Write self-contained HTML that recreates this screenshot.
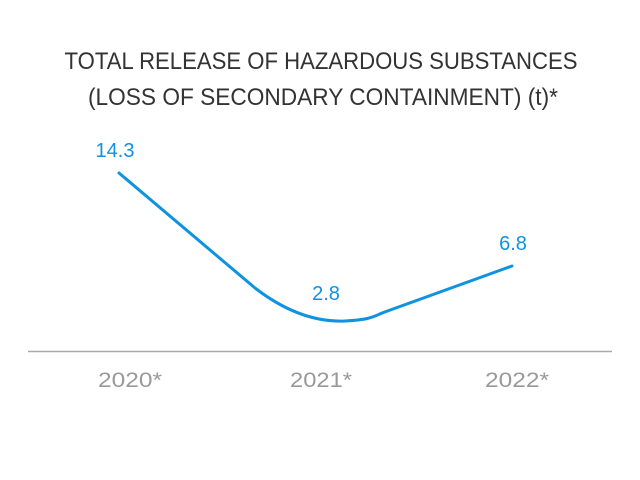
<!DOCTYPE html>
<html><head><style>
html,body{margin:0;padding:0;background:#fff;width:640px;height:480px;overflow:hidden}
svg text{font-family:"Liberation Sans",sans-serif}
</style></head><body>
<svg width="640" height="480" viewBox="0 0 640 480">
<text x="321" y="69" text-anchor="middle" font-size="24" fill="#333" textLength="513" lengthAdjust="spacingAndGlyphs">TOTAL RELEASE OF HAZARDOUS SUBSTANCES</text>
<text x="323" y="105" text-anchor="middle" font-size="24" fill="#333" textLength="470" lengthAdjust="spacingAndGlyphs">(LOSS OF SECONDARY CONTAINMENT) (t)*</text>
<line x1="28" y1="351.5" x2="612" y2="351.5" stroke="#aaa" stroke-width="1.5"/>
<path d="M119,173 L255,288 C290,315 320,322 345,321 C365,320 372,318 382,313 L512,266" fill="none" stroke="#0f93e0" stroke-width="3" stroke-linecap="round"/>
<text x="115" y="157" text-anchor="middle" font-size="20" fill="#0f93e0">14.3</text>
<text x="326" y="300" text-anchor="middle" font-size="20" fill="#0f93e0">2.8</text>
<text x="513" y="250" text-anchor="middle" font-size="20" fill="#0f93e0">6.8</text>
<text x="130" y="387" text-anchor="middle" font-size="21" fill="#999" textLength="64" lengthAdjust="spacingAndGlyphs">2020*</text>
<text x="321" y="387" text-anchor="middle" font-size="21" fill="#999" textLength="62" lengthAdjust="spacingAndGlyphs">2021*</text>
<text x="517" y="387" text-anchor="middle" font-size="21" fill="#999" textLength="64" lengthAdjust="spacingAndGlyphs">2022*</text>
</svg>
</body></html>
